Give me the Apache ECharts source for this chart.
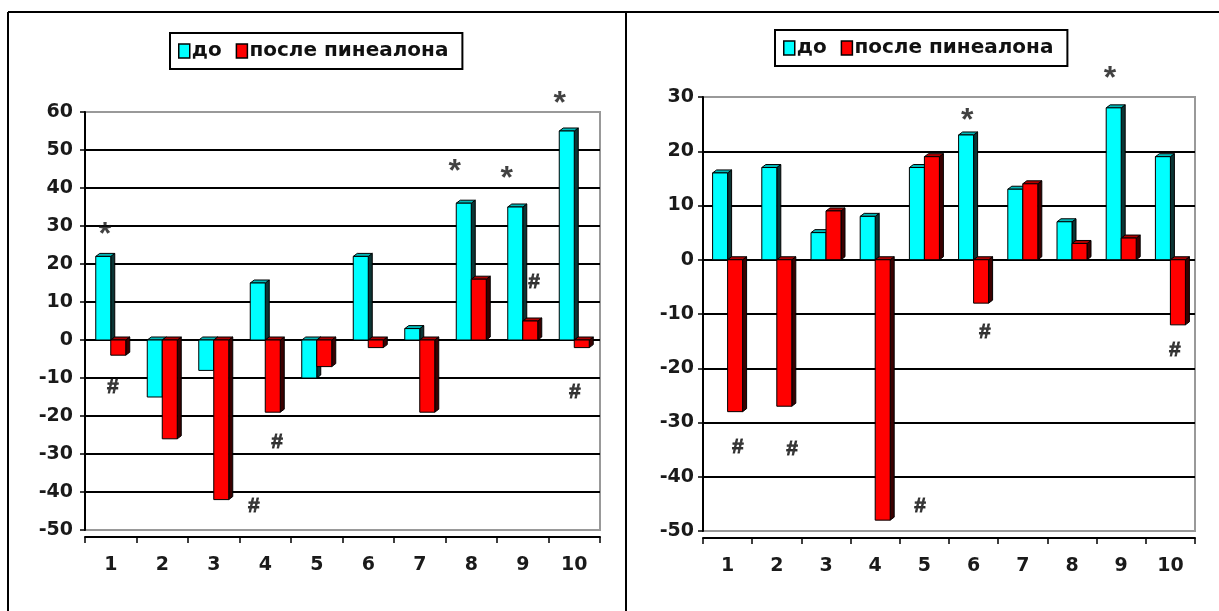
<!DOCTYPE html>
<html>
<head>
<meta charset="utf-8">
<script src="https://cdn.jsdelivr.net/npm/echarts@6/dist/echarts.min.js"></script>
<style>
html,body{margin:0;padding:0;background:#fff;}
#c{width:1219px;height:611px;}
</style>
</head>
<body>
<div id="c"></div>
<script>
const categories = ['1','2','3','4','5','6','7','8','9','10'];
const seriesNames = ['до', 'после пинеалона'];
const leftBefore  = [22, -15, -8, 15, -10, 22, 3, 36, 35, 55];
const leftAfter   = [-4, -26, -42, -19, -7, -2, -19, 16, 5, -2];
const rightBefore = [16, 17, 5, 8, 17, 23, 13, 7, 28, 19];
const rightAfter  = [-28, -27, 9, -48, 19, -8, 14, 3, 4, -12];
const leftYTicks  = [-50, -40, -30, -20, -10, 0, 10, 20, 30, 40, 50, 60];
const rightYTicks = [-50, -40, -30, -20, -10, 0, 10, 20, 30];
// significance marks: [position along categories (1..10), value]
const leftStars   = [[0.89, 29.7], [7.68, 46.3], [8.69, 44.5], [9.72, 64.2]];
const leftHashes  = [[1.04, -12.4], [3.78, -43.7], [4.23, -26.8], [9.22, 15.3], [10.01, -13.7]];
const rightStars  = [[5.87, 27.1], [8.77, 34.7]];
const rightHashes = [[1.21, -34.5], [2.31, -35], [4.91, -45.5], [6.23, -13.3], [10.09, -16.6]];

const FONT = '"DejaVu Sans", "Liberation Sans", Arial, sans-serif';
const MARK_FONT = '"Liberation Sans", Arial, sans-serif';
const CYAN = '#00FFFF', RED = '#FF0000';
const BAR_W = 15, DX = 4, DY = -3;

function yAxisFor(ticks, gi, margin) {
  return {
    type: 'value', gridIndex: gi,
    min: ticks[0], max: ticks[ticks.length - 1], interval: ticks[1] - ticks[0],
    axisLine: {show: true, lineStyle: {color: '#000', width: 2}},
    axisTick: {show: true, length: 5, lineStyle: {color: '#000', width: 1.5}},
    axisLabel: {color: '#1a1a1a', fontFamily: FONT, fontWeight: 'bold', fontSize: 19, margin: margin},
    splitLine: {show: true, showMinLine: false, showMaxLine: false, lineStyle: {color: '#000', width: 2}}
  };
}
function catAxisFor(gi) {
  return {
    type: 'category', gridIndex: gi, data: categories, position: 'bottom', offset: 7,
    axisLine: {show: true, onZero: false, lineStyle: {color: '#000', width: 2}},
    axisTick: {show: true, length: 6, lineStyle: {color: '#000', width: 1.5}},
    axisLabel: {color: '#1a1a1a', fontFamily: FONT, fontWeight: 'bold', fontSize: 19, margin: 19}
  };
}
function posAxisFor(gi) {
  return {type: 'value', gridIndex: gi, min: 0.5, max: 10.5, show: false};
}
function barSeries(name, values, color, side, top, shift, gi) {
  return {
    name: name, type: 'custom',
    xAxisIndex: gi * 2, yAxisIndex: gi,
    data: values.map((v, i) => [i, v]),
    itemStyle: {color: color},
    renderItem: function (params, api) {
      const p = api.coord([api.value(0), api.value(1)]);
      const b = api.coord([api.value(0), 0]);
      const x = p[0] + shift;
      const y1 = Math.min(p[1], b[1]), y2 = Math.max(p[1], b[1]);
      const w = BAR_W;
      const ls = {stroke: '#000', lineWidth: 1};
      return {
        type: 'group',
        children: [
          {type: 'polygon', shape: {points: [[x + w, y1], [x + w + DX, y1 + DY], [x + w + DX, y2 + DY], [x + w, y2]]},
            style: Object.assign({fill: side}, ls)},
          {type: 'polygon', shape: {points: [[x, y1], [x + DX, y1 + DY], [x + w + DX, y1 + DY], [x + w, y1]]},
            style: Object.assign({fill: top}, ls)},
          {type: 'rect', shape: {x: x, y: y1, width: w, height: Math.max(y2 - y1, 1)},
            style: Object.assign({fill: color}, ls)}
        ]
      };
    },
    z: 3
  };
}
function markSeries(data, text, size, off, gi) {
  return {
    type: 'scatter', data: data, xAxisIndex: gi * 2 + 1, yAxisIndex: gi,
    symbolSize: 1, itemStyle: {color: 'rgba(0,0,0,0)'}, clip: false, silent: true,
    label: {show: true, position: 'inside', formatter: text, color: '#111',
      fontFamily: MARK_FONT, fontWeight: 'bold', fontSize: size, offset: off,
      textBorderColor: '#111', textBorderWidth: text === '#' ? 0.8 : 0},
    z: 10
  };
}
function legendFor(left, top) {
  return {
    data: [
      {name: seriesNames[0], itemStyle: {color: CYAN, borderColor: '#000', borderWidth: 1.5}},
      {name: seriesNames[1], itemStyle: {color: RED, borderColor: '#000', borderWidth: 1.5}}
    ],
    left: left, top: top, orient: 'horizontal',
    borderColor: '#000', borderWidth: 2, padding: [8, 14, 8, 8],
    itemWidth: 11, itemHeight: 14, itemGap: 14, icon: 'rect',
    textStyle: {fontFamily: FONT, fontWeight: 'bold', fontSize: 20, color: '#111', padding: [0, 0, 0, -3]},
    selectedMode: false
  };
}

const chart = echarts.init(document.getElementById('c'));
chart.setOption({
  backgroundColor: '#fff',
  animation: false,
  legend: [legendFor(170, 33), legendFor(775, 30)],
  grid: [
    {left: 85, top: 112, width: 515, height: 418, show: true, borderColor: '#999', borderWidth: 2, backgroundColor: '#fff'},
    {left: 703, top: 97, width: 492, height: 434, show: true, borderColor: '#999', borderWidth: 2, backgroundColor: '#fff'}
  ],
  xAxis: [catAxisFor(0), posAxisFor(0), catAxisFor(1), posAxisFor(1)],
  yAxis: [yAxisFor(leftYTicks, 0, 12), yAxisFor(rightYTicks, 1, 9)],
  series: [
    barSeries(seriesNames[0], leftBefore, CYAN, '#0b3535', '#00b8b8', -BAR_W, 0),
    barSeries(seriesNames[1], leftAfter, RED, '#3a0000', '#b00000', 0, 0),
    barSeries(seriesNames[0], rightBefore, CYAN, '#0b3535', '#00b8b8', -BAR_W, 1),
    barSeries(seriesNames[1], rightAfter, RED, '#3a0000', '#b00000', 0, 1),
    markSeries(leftStars, '*', 32, [0, 8], 0),
    markSeries(leftHashes, '#', 21, [0, 0], 0),
    markSeries(rightStars, '*', 32, [0, 8], 1),
    markSeries(rightHashes, '#', 21, [0, 0], 1)
  ],
  graphic: [
    {type: 'line', shape: {x1: 8, y1: 12, x2: 1219, y2: 12}, style: {stroke: '#000', lineWidth: 2}, silent: true},
    {type: 'line', shape: {x1: 8, y1: 12, x2: 8, y2: 611}, style: {stroke: '#000', lineWidth: 2}, silent: true},
    {type: 'line', shape: {x1: 626, y1: 12, x2: 626, y2: 611}, style: {stroke: '#000', lineWidth: 2}, silent: true}
  ]
});
</script>
</body>
</html>
